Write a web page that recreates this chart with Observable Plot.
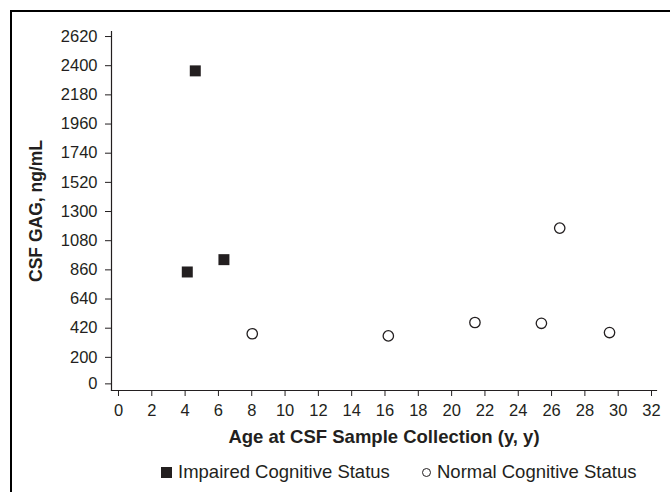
<!DOCTYPE html>
<html>
<head>
<meta charset="utf-8">
<script src="https://cdn.jsdelivr.net/npm/d3@7"></script>
<script src="https://cdn.jsdelivr.net/npm/@observablehq/plot@0.6"></script>
<style>
  html, body { margin: 0; padding: 0; background: #fff; }
  #wrap { position: relative; width: 670px; height: 492px; overflow: hidden; font-family: "Liberation Sans", Arial, Helvetica, sans-serif; color: #231f20; }
  #frame { position: absolute; left: 10px; top: 10px; width: 700px; height: 520px; border-left: 2px solid #000; border-top: 2px solid #000; box-sizing: border-box; }
  #chart { position: absolute; left: 0; top: 0; }
  #legend { position: absolute; top: 461px; left: 0; width: 670px; height: 22px; font-size: 18.5px; line-height: 22px; }
  .item { position: absolute; top: 0; white-space: nowrap; }
  .sw-sq { display: inline-block; width: 11px; height: 11px; background: #231f20; vertical-align: 0px; margin-right: 6px; }
  .sw-ci { display: inline-block; width: 7px; height: 7px; border: 1.3px solid #231f20; border-radius: 50%; vertical-align: 1px; margin-right: 6px; }
</style>
</head>
<body>
<div id="wrap">
  <div id="frame"></div>
  <div id="chart"></div>
  <div id="legend"></div>
</div>
<script>
const categories = ["Impaired Cognitive Status", "Normal Cognitive Status"];
const impairedAge = [4.13, 4.61, 6.33];
const impairedGAG = [844, 2361, 937];
const normalAge = [8.03, 16.2, 21.4, 25.39, 26.49, 29.48];
const normalGAG = [378, 362, 463, 457, 1175, 387];
const yTicks = [0, 200, 420, 640, 860, 1080, 1300, 1520, 1740, 1960, 2180, 2400, 2620];
const xTicks = [0, 2, 4, 6, 8, 10, 12, 14, 16, 18, 20, 22, 24, 26, 28, 30, 32];
const xTitle = "Age at CSF Sample Collection (y, y)";
const yTitle = "CSF GAG, ng/mL";

const impaired = impairedAge.map((a, i) => ({age: a, gag: impairedGAG[i], status: categories[0]}));
const normal = normalAge.map((a, i) => ({age: a, gag: normalGAG[i], status: categories[1]}));

const ink = "#231f20";
const chart = Plot.plot({
  width: 670,
  height: 455,
  marginLeft: 111,
  marginRight: 14,
  marginTop: 31,
  marginBottom: 65,
  style: {fontFamily: '"Liberation Sans", Arial, Helvetica, sans-serif', fontSize: "16px", color: ink, background: "transparent", overflow: "visible"},
  x: {domain: [-0.42, 32.3]},
  y: {domain: [-50, 2658]},
  marks: [
    Plot.frame({anchor: "left", stroke: ink, strokeWidth: 1.2}),
    Plot.frame({anchor: "bottom", stroke: ink, strokeWidth: 1.2}),
    Plot.axisY({ticks: yTicks, tickSize: 6, tickPadding: 8, fontSize: 16.5, label: null, tickFormat: d => String(d), stroke: ink}),
    Plot.axisX({ticks: xTicks, tickSize: 6, tickPadding: 8, fontSize: 16.5, label: null, tickFormat: d => String(d), stroke: ink}),
    Plot.dot(impaired, {x: "age", y: "gag", symbol: "square", fill: ink, r: 6.2}),
    Plot.dot(normal, {x: "age", y: "gag", symbol: "circle", fill: "white", stroke: ink, strokeWidth: 1.3, r: 5.2}),
    Plot.text([yTitle], {frameAnchor: "left", textAnchor: "middle", dx: -75, rotate: -90, fontWeight: "bold", fontSize: 17.5, fill: ink}),
    Plot.text([xTitle], {frameAnchor: "bottom", dy: 52, fontWeight: "bold", fontSize: 18.5, fill: ink})
  ]
});
document.getElementById("chart").appendChild(chart);

const legend = document.getElementById("legend");
const lefts = [161, 422];
categories.forEach((c, i) => {
  const d = document.createElement("div");
  d.className = "item";
  d.style.left = lefts[i] + "px";
  const sw = document.createElement("span");
  sw.className = i === 0 ? "sw-sq" : "sw-ci";
  d.appendChild(sw);
  d.appendChild(document.createTextNode(c));
  legend.appendChild(d);
});
</script>
</body>
</html>
